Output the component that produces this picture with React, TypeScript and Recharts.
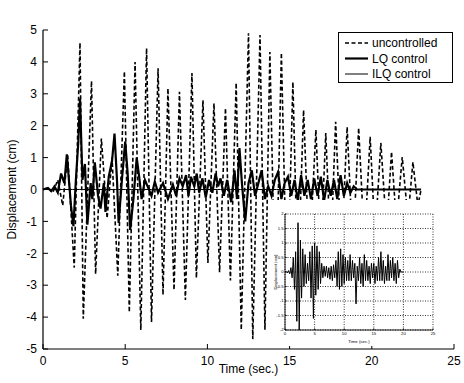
import React from 'react';
import { LineChart, Line, XAxis, YAxis, Legend, Label, CartesianGrid } from 'recharts';

const FONT = '"Liberation Sans", Arial, Helvetica, sans-serif';

// Axis ticks
const xTicks = [0, 5, 10, 15, 20, 25];
const yTicks = [-5, -4, -3, -2, -1, 0, 1, 2, 3, 4, 5];
const insetXTicks = [0, 5, 10, 15, 20, 25];
const insetYTicks = [-2, -1.5, -1, -0.5, 0, 0.5, 1, 1.5, 2];

// Series names, in legend order
const seriesNames = ['uncontrolled', 'LQ control', 'ILQ control'];

// Uncontrolled response (cm)
const uncTime = [0, 0.3, 0.6, 0.9, 1.2, 1.5, 1.9, 2.25, 2.45, 2.95, 3.2, 3.55, 3.9, 4.2, 4.55, 4.95, 5.25, 5.6, 5.95, 6.3, 6.6, 7.0, 7.3, 7.6, 7.97, 8.3, 8.66, 9.06, 9.33, 9.73, 10.03, 10.4, 10.74, 11.1, 11.4, 11.75, 12.06, 12.5, 12.76, 13.2, 13.5, 13.8, 14.15, 14.5, 14.85, 15.2, 15.5, 15.85, 16.2, 16.6, 16.9, 17.2, 17.5, 17.8, 18.15, 18.5, 18.85, 19.2, 19.55, 19.9, 20.2, 20.55, 20.9, 21.2, 21.5, 21.85, 22.2, 22.5, 22.8, 23.0];
const uncDisp = [0, 0.05, -0.1, 0.3, -0.5, 1.1, -2.45, 4.6, -4.05, 3.4, -2.65, 1.6, -0.9, 1.0, -2.7, 3.7, -3.85, 4.0, -4.4, 4.43, -4.15, 3.8, -3.3, 3.17, -3.15, 3.06, -3.46, 3.65, -2.77, 2.8, -2.3, 2.7, -2.59, 2.55, -2.85, 3.34, -4.4, 4.9, -4.69, 4.84, -4.4, 4.31, -4.0, 4.28, -3.6, 3.37, -2.9, 2.49, -2.2, 1.87, -1.9, 1.77, -2.0, 2.12, -2.0, 1.96, -1.9, 1.93, -1.7, 1.65, -1.5, 1.46, -1.3, 1.18, -1.1, 1.02, -0.9, 0.86, -0.5, 0];

// LQ controlled response (cm)
const lqTime = [0, 0.3, 0.5, 0.7, 0.9, 1.1, 1.3, 1.45, 1.7, 1.85, 2.0, 2.15, 2.25, 2.4, 2.55, 2.7, 2.9, 3.0, 3.15, 3.35, 3.5, 3.7, 3.8, 4.0, 4.2, 4.35, 4.5, 4.6, 4.8, 5.0, 5.15, 5.3, 5.5, 5.7, 5.85, 6.0, 6.2, 6.4, 6.6, 6.8, 7.0, 7.3, 7.6, 7.9, 8.1, 8.3, 8.5, 8.7, 8.85, 9.0, 9.2, 9.35, 9.5, 9.7, 9.9, 10.1, 10.3, 10.5, 10.65, 10.8, 11.0, 11.2, 11.45, 11.65, 11.8, 11.95, 12.1, 12.3, 12.5, 12.7, 12.9, 13.1, 13.3, 13.5, 13.7, 13.9, 14.1, 14.3, 14.5, 14.7, 14.9, 15.1, 15.3, 15.5, 15.7, 15.9, 16.1, 16.3, 16.5, 16.7, 16.9, 17.1, 17.3, 17.5, 17.7, 17.9, 18.1, 18.3, 18.5, 18.7, 18.9, 19.1, 23.0];
const lqDisp = [0, 0.05, -0.05, 0.1, -0.1, 0.5, 0.2, 1.1, -0.5, -1.15, 0.3, 1.5, 2.85, 0.3, 0.8, -1.1, 0.2, -0.3, 0.85, -0.2, -0.6, 0.2, -0.7, 0.4, 0.9, 1.75, 0.3, -1.05, 0.3, 1.5, 0.5, -1.27, -0.3, 1.0, 0.4, -0.3, 0.3, 0.05, -0.2, 0.25, -0.1, 0.2, -0.3, 0.15, -0.2, 0.35, 0.1, 0.45, -0.2, 0.4, 0.1, 0.5, -0.1, 0.35, -0.25, 0.3, -0.1, 0.5, 0.1, 0.35, -0.2, 0.3, -0.4, 0.6, -0.3, 1.3, 0.2, -1.0, 0.2, 0.6, -0.2, 0.2, 0.6, -0.3, 0.1, -0.2, 0.3, 0.55, -0.3, 0.2, 0.4, -0.2, 0.3, -0.35, 0.45, -0.2, 0.3, -0.3, 0.35, -0.2, 0.4, -0.35, 0.3, -0.2, 0.3, -0.3, 0.45, -0.2, 0.2, -0.1, 0.1, 0.0, 0.0];

// ILQ controlled response (x 10^-3 cm)
const ilqTime = [0, 0.2, 0.4, 0.6, 0.8, 1.0, 1.2, 1.4, 1.6, 1.8, 2.0, 2.2, 2.4, 2.6, 2.8, 3.0, 3.2, 3.4, 3.6, 3.8, 4.0, 4.2, 4.4, 4.6, 4.8, 5.0, 5.2, 5.4, 5.6, 5.8, 6.0, 6.2, 6.4, 6.6, 6.8, 7.0, 7.2, 7.4, 7.6, 7.8, 8.0, 8.2, 8.4, 8.6, 8.8, 9.0, 9.2, 9.4, 9.6, 9.8, 10.0, 10.2, 10.4, 10.6, 10.8, 11.0, 11.2, 11.4, 11.6, 11.8, 12.0, 12.2, 12.4, 12.6, 12.8, 13.0, 13.2, 13.4, 13.6, 13.8, 14.0, 14.2, 14.4, 14.6, 14.8, 15.0, 15.2, 15.4, 15.6, 15.8, 16.0, 16.2, 16.4, 16.6, 16.8, 17.0, 17.2, 17.4, 17.6, 17.8, 18.0, 18.2, 18.4, 18.6, 18.8, 19.0, 19.2, 19.4, 19.6, 19.8, 20.0];
const ilqDisp = [0, 0.02, -0.03, 0.05, -0.06, 0.15, -0.2, 0.5, -0.6, 0.7, -1.7, 1.7, -2.0, 1.1, -0.9, 0.8, -0.5, 0.6, -0.4, 0.3, -0.3, 0.7, -0.9, 0.9, -1.6, 1.0, -0.8, 0.9, -0.6, 0.7, -0.4, 0.3, -0.2, 0.2, -0.15, 0.2, -0.2, 0.15, -0.25, 0.2, -0.3, 0.25, -0.2, 0.4, -0.5, 0.7, -0.6, 0.8, -0.5, 0.6, -0.4, 0.5, -0.3, 0.4, -0.3, 0.6, -0.3, 0.4, -0.2, 0.3, -1.1, 0.2, -0.3, 0.5, -0.4, 0.3, -0.5, 0.6, -0.3, 0.4, -0.3, 0.2, -0.4, 0.3, -0.2, 0.3, -0.4, 0.2, -0.3, 0.5, -0.3, 0.7, -0.3, 0.4, -0.4, 0.2, -0.3, 0.6, -0.3, 0.4, -0.2, 0.5, -0.3, 0.3, -0.4, 0.4, -0.2, 0.1, 0, 0, 0];
const ILQ_UNIT = 1e-3;

const toPoints = (ts: number[], vs: number[], scale = 1) => ts.map((t, i) => ({ t, v: vs[i] * scale }));

const uncontrolled = toPoints(uncTime, uncDisp);
const lqControl = toPoints(lqTime, lqDisp);
const ilqControl = toPoints(ilqTime, ilqDisp, ILQ_UNIT);
const ilqInset = toPoints(ilqTime, ilqDisp);

const DASH = '4 2.5';

// Tick renderers: MATLAB-style inward tick marks plus labels
const bottomTick = (margin: number, size: number, len: number, w = 1) => (props: any) => {
  const { x, y, payload } = props;
  const ay = y - margin;
  return (
    <g>
      <line x1={x} x2={x} y1={ay} y2={ay - len} stroke="#000" strokeWidth={w} />
      <text x={x} y={y} dy="0.71em" textAnchor="middle" fontSize={size} fontFamily={FONT} fill="#000">{payload.value}</text>
    </g>
  );
};
const leftTick = (margin: number, size: number, len: number, w = 1) => (props: any) => {
  const { x, y, payload } = props;
  const ax = x + margin;
  return (
    <g>
      <line x1={ax} x2={ax + len} y1={y} y2={y} stroke="#000" strokeWidth={w} />
      <text x={x} y={y} dy="0.355em" textAnchor="end" fontSize={size} fontFamily={FONT} fill="#000">{payload.value}</text>
    </g>
  );
};
const topTick = (len: number, w = 1) => (props: any) => (
  <line x1={props.x} x2={props.x} y1={props.y} y2={props.y + len} stroke="#000" strokeWidth={w} />
);
const rightTick = (len: number, w = 1) => (props: any) => (
  <line x1={props.x} x2={props.x - len} y1={props.y} y2={props.y} stroke="#000" strokeWidth={w} />
);

const renderLegend = ({ payload }: any) => {
  const items = [...(payload || [])].sort(
    (a: any, b: any) => seriesNames.indexOf(a.value) - seriesNames.indexOf(b.value)
  );
  return (
    <svg width={116} height={52} style={{ display: 'block' }}>
      <rect x={0.5} y={0.5} width={114} height={50} fill="#fff" stroke="#000" strokeWidth={1} />
      {items.map((entry: any, i: number) => {
        const cy = 11 + i * 15.5;
        const p = entry.payload || {};
        return (
          <g key={i}>
            <line x1={7} x2={30} y1={cy} y2={cy} stroke="#000" strokeWidth={p.strokeWidth ?? 1} strokeDasharray={p.strokeDasharray} />
            <text x={34} y={cy} dy="0.355em" fontSize={12} fontFamily={FONT} fill="#000">{entry.value}</text>
          </g>
        );
      })}
    </svg>
  );
};

const MainChart = () => (
  <LineChart width={464} height={383} margin={{ top: 30, right: 10, bottom: 0, left: 0 }}>
    <XAxis dataKey="t" type="number" domain={[0, 25]} ticks={xTicks} interval={0} height={34}
      tickSize={0} tickMargin={7} tickLine={false} axisLine={{ stroke: '#000', strokeWidth: 1.2 }}
      tick={bottomTick(7, 12, 5)}>
      <Label value="Time (sec.)" position="insideBottom" offset={10} fontSize={12} fontFamily={FONT} fill="#000" />
    </XAxis>
    <XAxis xAxisId="top" dataKey="t" orientation="top" type="number" domain={[0, 25]} ticks={xTicks} interval={0}
      height={0} tickSize={0} tickMargin={0} tickLine={false} axisLine={{ stroke: '#000', strokeWidth: 1 }}
      tick={topTick(5)}>
      <Label value="Response to El Centro at the 2nd floor" position="top" offset={8} fontSize={11.5} fontFamily={FONT} fill="#000" />
    </XAxis>
    <YAxis type="number" domain={[-5, 5]} ticks={yTicks} interval={0} width={43}
      tickSize={0} tickMargin={6} tickLine={false} axisLine={{ stroke: '#000', strokeWidth: 1.2 }}
      tick={leftTick(6, 12, 5)}>
      <Label content={(props: any) => {
        const vb = props.viewBox || { x: 0, y: 30, height: 319 };
        const cy = vb.y + vb.height / 2;
        return (
          <text transform={`translate(${vb.x + 16},${cy}) rotate(-90)`} textAnchor="middle" fontSize={12} fontFamily={FONT} fill="#000">Displacement (cm)</text>
        );
      }} />
    </YAxis>
    <YAxis yAxisId="right" orientation="right" type="number" domain={[-5, 5]} ticks={yTicks} interval={0} width={0}
      tickSize={0} tickMargin={0} tickLine={false} axisLine={{ stroke: '#000', strokeWidth: 1.2 }}
      tick={rightTick(5)} />
    <Legend layout="vertical" align="center" verticalAlign="middle"
      wrapperStyle={{ position: 'absolute', left: 338, top: 32, width: 116, height: 52 }}
      content={renderLegend} />
    <Line data={uncontrolled} dataKey="v" name={seriesNames[0]} type="linear" stroke="#000" strokeWidth={1.6}
      strokeDasharray={DASH} dot={false} isAnimationActive={false} />
    <Line data={lqControl} dataKey="v" name={seriesNames[1]} type="linear" stroke="#000" strokeWidth={2.2}
      dot={false} isAnimationActive={false} />
    <Line data={ilqControl} dataKey="v" name={seriesNames[2]} type="linear" stroke="#000" strokeWidth={1}
      dot={false} isAnimationActive={false} />
  </LineChart>
);

const InsetChart = () => (
  <LineChart width={170} height={146} margin={{ top: 14, right: 9, bottom: 0, left: 0 }}>
    <CartesianGrid stroke="#000" strokeDasharray="1 1.5" strokeWidth={0.8} />
    <XAxis dataKey="t" type="number" domain={[0, 25]} ticks={insetXTicks} interval={0} height={16}
      tickSize={0} tickMargin={2} tickLine={false} axisLine={{ stroke: '#000', strokeWidth: 0.9 }}
      tick={bottomTick(2, 4.2, 2, 0.6)}>
      <Label value="Time (sec.)" position="insideBottom" offset={3} fontSize={4.3} fontFamily={FONT} fill="#000" />
    </XAxis>
    <XAxis xAxisId="top" dataKey="t" orientation="top" type="number" domain={[0, 25]} ticks={insetXTicks} interval={0}
      height={0} tickSize={0} tickMargin={0} tickLine={false} axisLine={{ stroke: '#000', strokeWidth: 0.9 }}
      tick={topTick(2, 0.6)}>
      <Label value="Response at the 2nd floor with warm-up term for ILQ" position="top" offset={3} fontSize={4.2} fontFamily={FONT} fill="#000" />
      <Label content={(props: any) => {
        const vb = props.viewBox || { x: 13, y: 14 };
        return (
          <text x={vb.x + 2} y={vb.y - 2.5} fontSize={4.2} fontFamily={FONT} fill="#000">
            x 10<tspan dy={-1.8} fontSize={3.2}>-3</tspan>
          </text>
        );
      }} />
    </XAxis>
    <YAxis type="number" domain={[-2, 2]} ticks={insetYTicks} interval={0} width={13}
      tickSize={0} tickMargin={1.5} tickLine={false} axisLine={{ stroke: '#000', strokeWidth: 0.9 }}
      tick={leftTick(1.5, 4.2, 2, 0.6)}>
      <Label content={(props: any) => {
        const vb = props.viewBox || { x: 0, y: 14, height: 116 };
        const cy = vb.y + vb.height / 2;
        return (
          <text transform={`translate(${vb.x + 4.5},${cy}) rotate(-90)`} textAnchor="middle" fontSize={4.2} fontFamily={FONT} fill="#000">Displacement (cm)</text>
        );
      }} />
    </YAxis>
    <YAxis yAxisId="right" orientation="right" type="number" domain={[-2, 2]} ticks={insetYTicks} interval={0} width={0}
      tickSize={0} tickMargin={0} tickLine={false} axisLine={{ stroke: '#000', strokeWidth: 0.9 }}
      tick={rightTick(2, 0.6)} />
    <Line data={ilqInset} dataKey="v" name={seriesNames[2]} type="linear" stroke="#000" strokeWidth={1}
      dot={false} isAnimationActive={false} />
  </LineChart>
);

export default function App() {
  return (
    <div style={{ position: 'absolute', left: 0, top: 0, width: 464, height: 383, background: '#fff', fontFamily: FONT }}>
      <MainChart />
      <div style={{ position: 'absolute', left: 272, top: 200, width: 170, height: 146, background: '#fff' }}>
        <InsetChart />
      </div>
    </div>
  );
}
